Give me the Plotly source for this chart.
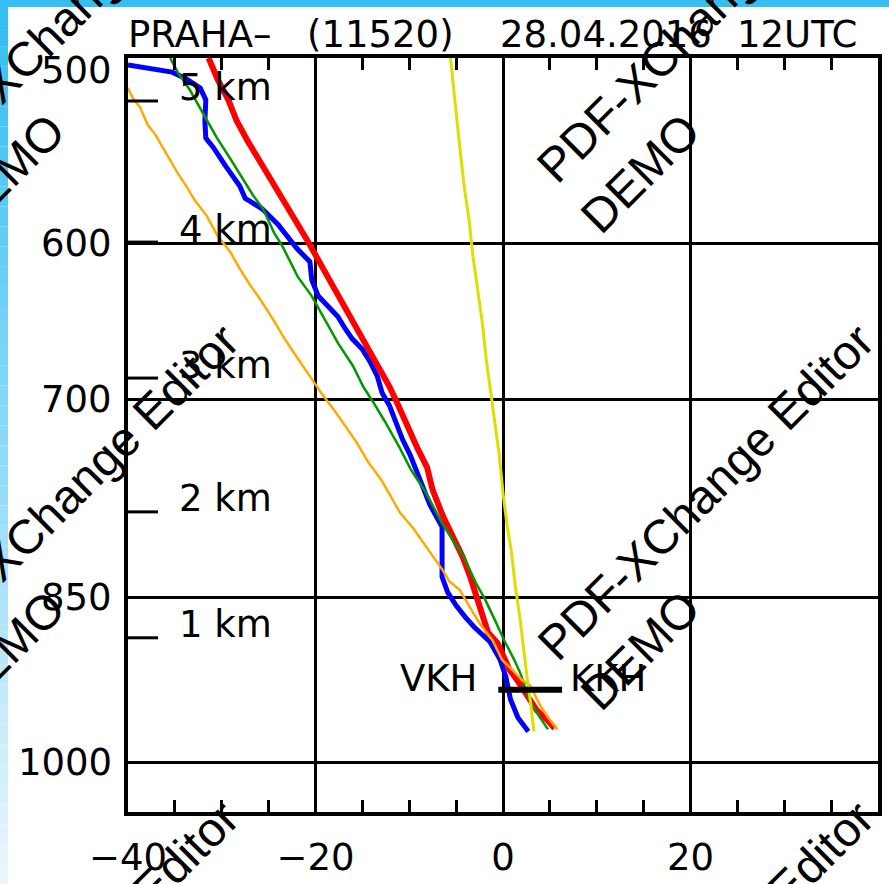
import math
import plotly.graph_objects as go

# ---------------- data ----------------
red_T = [-31.4, -30.4, -29.3, -28.4, -27.3, -26.2, -25.2, -24.1, -23.0, -22.0, -20.9, -19.5, -18.1,
         -16.6, -15.6, -14.5, -13.1, -12.1, -11.3, -10.2, -9.2, -8.1, -7.5, -6.4, -5.3, -4.3, -3.5,
         -2.8, -2.2, -1.6, -0.6, 0.0, 0.7, 1.5, 2.6, 3.6, 4.7, 5.5]
red_p = [500, 511, 521, 532, 542, 551, 560, 569, 579, 588, 598, 612, 626, 641, 652, 664, 678, 691,
         702, 719, 733, 748, 765, 785, 801, 817, 833, 850, 867, 880, 889, 901, 913, 922, 937, 950, 959, 967]

blue_T = [-40.0, -37.7, -35.3, -33.9, -32.3, -31.7, -31.8, -31.7, -30.9, -29.6, -28.1, -27.5, -25.7,
          -24.0, -22.0, -20.6, -20.4, -19.7, -18.8, -17.6, -16.9, -16.1, -15.0, -14.2, -13.4, -12.9,
          -12.1, -11.4, -10.7, -9.9, -8.9, -7.8, -6.5, -6.5, -6.5, -5.9, -5.0, -4.0, -3.1, -1.4,
          -0.3, 0.3, 0.8, 1.6, 2.7]
blue_p = [503.5, 505, 507, 510, 515, 521, 532, 541, 546, 556, 567, 574, 580, 589, 603, 611, 622, 632,
          638, 645, 652, 659, 666, 674, 684, 695, 704, 716, 728, 739, 756, 776, 793, 815, 833, 846,
          857, 867, 875, 888, 904, 919, 940, 957, 970]

green_T = [-35.5, -34.7, -33.4, -31.9, -30.5, -29.1, -27.7, -26.7, -25.6, -24.4, -23.5, -21.9, -20.4,
           -19.0, -17.6, -16.0, -14.9, -13.7, -12.6, -11.0, -9.8, -8.2, -6.6, -5.4, -4.3, -2.9,
           -1.9, -1.0, 0.2, 1.2, 1.9, 2.9, 4.4, 4.8]
green_p = [500, 507, 516, 529, 541, 552, 564, 572, 580, 594, 602, 620, 632, 647, 662, 677, 691, 703,
           715, 734, 750, 767, 789, 803, 815, 838, 852, 867, 888, 904, 917, 943, 962, 968]

orange_T = [-40.0, -39.5, -38.7, -37.9, -37.1, -36.4, -35.7, -34.7, -33.8, -32.9, -31.6, -30.4, -29.1,
            -28.1, -27.0, -25.9, -24.5, -23.3, -22.0, -20.6, -19.3, -17.9, -16.6, -15.6, -14.4,
            -13.1, -12.1, -11.0, -9.6, -8.3, -7.3, -6.4, -5.7, -4.6, -3.5, -2.5, -1.1, -0.1, 1.0,
            2.0, 2.9, 4.0, 5.0, 5.8]
orange_p = [515, 520, 525, 534, 539, 545, 551, 560, 567, 575, 584, 596, 605, 615, 625, 634, 647, 659,
            671, 684, 696, 708, 720, 730, 744, 756, 768, 782, 794, 808, 819, 828, 837, 844, 859, 872,
            887, 904, 913, 922, 927, 946, 959, 968]

yellow_T = [-5.6, -5.3, -4.9, -4.5, -4.1, -3.6, -3.2, -2.7, -2.2, -1.8, -1.4, -0.9, -0.4, 0.0, 0.4,
            0.9, 1.3, 1.8, 2.2, 2.6, 2.9, 3.3]
yellow_p = [500, 515, 532, 551, 569, 587, 608, 628, 649, 672, 691, 715, 739, 767, 790, 813, 840, 867,
            897, 922, 940, 970]

km_labels = ["1 km", "2 km", "3 km", "4 km", "5 km"]
km_p = [884.6, 781.5, 685.1, 599.3, 521.6]

level_T = [-0.5, 6.3]
level_p = 931
level_left_label = "VKH"
level_right_label = "KKH"

y_ticks = [500, 600, 700, 850, 1000]
y_tick_text = ["500", "600", "700", "850", "1000"]
x_ticks = [-40, -20, 0, 20, 40]
x_tick_text = ["\u221240", "\u221220", "0", "20", "40"]

title_station = "PRAHA\u2013"
title_id = "(11520)"
title_date = "28.04.2016"
title_hour = "12UTC"

watermark_line1 = "PDF-XChange Editor"
watermark_line2 = "DEMO"

# ---------------- figure ----------------
W, H = 889, 884
L, R, T_, B = 128, 11, 58, 72
PW, PH = W - L - R, H - T_ - B
FONT = "DejaVu Sans"


def px_x(px):
    return (px - L) / PW


def px_y(py):
    return (H - B - py) / PH


fig = go.Figure()


def line(xs, ys, color, width):
    fig.add_trace(go.Scatter(x=xs, y=ys, mode="lines", line=dict(color=color, width=width),
                             hoverinfo="skip", showlegend=False, cliponaxis=True))


line(blue_T, blue_p, "#0000ff", 5)
line(red_T, red_p, "#ff0000", 6)
line(green_T, green_p, "#009900", 2.5)
line(orange_T, orange_p, "#ffaa00", 2.5)
line(yellow_T, yellow_p, "#e0dd00", 3)

# km ticks on the left
kx, ky = [], []
for p in km_p:
    kx += [-40, -36.8, None]
    ky += [p, p, None]
line(kx, ky, "black", 3)

# level bar
line(level_T, [level_p, level_p], "black", 6)

annotations = []
for lab, p in zip(km_labels, km_p):
    annotations.append(dict(x=-34.8, y=math.log10(p), xref="x", yref="y", text=lab, showarrow=False,
                            xanchor="left", yanchor="middle", yshift=13,
                            font=dict(family=FONT, size=37, color="black")))

for lab, p in zip(y_tick_text, y_ticks):
    annotations.append(dict(x=0, y=math.log10(p), xref="paper", yref="y", text=lab, showarrow=False,
                            xanchor="right", yanchor="middle", xshift=-14,
                            yshift=-12 if p == 500 else 0,
                            font=dict(family=FONT, size=37, color="black")))

annotations.append(dict(x=-2.6, y=math.log10(level_p), xref="x", yref="y", text=level_left_label,
                        showarrow=False, xanchor="right", yanchor="middle", yshift=11,
                        font=dict(family=FONT, size=37, color="black")))
annotations.append(dict(x=6.9, y=math.log10(level_p), xref="x", yref="y", text=level_right_label,
                        showarrow=False, xanchor="left", yanchor="middle", yshift=11,
                        font=dict(family=FONT, size=37, color="black")))

# title
for txt, xpx, anchor in ((title_station, 126, "left"), (title_id, 305, "left"),
                         (title_date, 498, "left"), (title_hour, 797, "center")):
    annotations.append(dict(x=px_x(xpx), y=px_y(34), xref="paper", yref="paper", text=txt,
                            showarrow=False, xanchor=anchor, yanchor="middle",
                            font=dict(family=FONT, size=37, color="black")))

# watermark tiles
for i in (-1, 0):
    for j in (-1, 0, 1):
        cx1, cy1 = 705 + 635 * i, 492 + 477 * j
        cx2, cy2 = 640 + 635 * i, 650 + 477 * j
        for (cx, cy, txt) in ((cx1, cy1, watermark_line1), (cx2, cy2, watermark_line2)):
            annotations.append(dict(x=px_x(cx), y=px_y(cy), xref="paper", yref="paper", text=txt,
                                    showarrow=False, xanchor="center", yanchor="middle",
                                    textangle=-45,
                                    font=dict(family="Liberation Sans, Arial", size=48, color="black")))

# blue border strips
shapes = []
shapes.append(dict(type="rect", xref="paper", yref="paper", x0=px_x(0), x1=px_x(W), y0=px_y(7), y1=px_y(0),
                   fillcolor="rgb(52,190,242)", line=dict(width=0), layer="below"))
n = 44
c0 = (52, 190, 242)
c1 = (232, 246, 252)
for k in range(n):
    t = k / (n - 1)
    col = tuple(int(round(c0[m] + (c1[m] - c0[m]) * t)) for m in range(3))
    y0 = 7 + (H - 7) * k / n
    y1 = 7 + (H - 7) * (k + 1) / n
    shapes.append(dict(type="rect", xref="paper", yref="paper", x0=px_x(0), x1=px_x(8),
                       y0=px_y(y1), y1=px_y(y0), fillcolor="rgb(%d,%d,%d)" % col,
                       line=dict(width=0), layer="below"))

fig.update_layout(
    width=W, height=H, autosize=False,
    margin=dict(l=L, r=R, t=T_, b=B, pad=0, autoexpand=False),
    paper_bgcolor="white", plot_bgcolor="white",
    showlegend=False,
    annotations=annotations,
    shapes=shapes,
    xaxis=dict(range=[-40, 40], tickvals=x_ticks, ticktext=x_tick_text, automargin=False,
               showgrid=True, gridcolor="black", gridwidth=3, zeroline=False,
               showline=True, linecolor="black", linewidth=4, mirror="ticks",
               ticks="inside", ticklen=12, tickwidth=3, tickcolor="black",
               minor=dict(dtick=5, tick0=0, ticks="inside", ticklen=12, tickwidth=3,
                          tickcolor="black", showgrid=False),
               ticklabelstandoff=10,
               tickfont=dict(family=FONT, size=37, color="black"), fixedrange=True),
    yaxis=dict(type="log", range=[math.log10(1050), math.log10(500)], tickvals=y_ticks,
               automargin=False,
               showticklabels=False, showgrid=True, gridcolor="black", gridwidth=3,
               zeroline=False, showline=True, linecolor="black", linewidth=4, mirror=True,
               ticks="", fixedrange=True),
)

fig.write_html("out.html")
